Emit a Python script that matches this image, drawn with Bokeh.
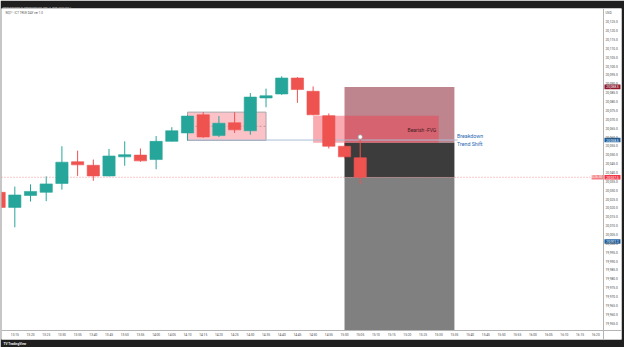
from bokeh.plotting import figure
from bokeh.models import Range1d, FixedTicker, Label, ColumnDataSource, NumeralTickFormatter, Title
from bokeh.embed import file_html
from bokeh.resources import INLINE
from bokeh.core.properties import value

# ---------------- data ----------------
times = ["13:10", "13:15", "13:20", "13:25", "13:30", "13:35", "13:40", "13:45",
         "13:50", "13:55", "14:00", "14:05", "14:10", "14:15", "14:20", "14:25",
         "14:30", "14:35", "14:40", "14:45", "14:50", "14:55", "15:00", "15:05"]
opens = [20029.0, 20020.5, 20027.25, 20029.0, 20034.0, 20046.25, 20044.25, 20038.25,
         20049.0, 20050.0, 20047.5, 20057.75, 20062.5, 20072.75, 20061.0, 20068.25,
         20063.75, 20082.25, 20084.5, 20093.5, 20086.0, 20072.25, 20055.0, 20048.5]
highs = [20030.5, 20032.25, 20033.5, 20038.0, 20055.0, 20052.5, 20047.5, 20053.5,
         20057.75, 20053.75, 20060.75, 20065.75, 20072.5, 20074.25, 20072.0, 20074.25,
         20085.0, 20087.5, 20094.5, 20094.0, 20088.75, 20073.5, 20057.0, 20059.0]
lows = [20018.75, 20009.25, 20023.75, 20024.0, 20030.5, 20038.25, 20035.5, 20038.0,
        20044.0, 20046.25, 20042.0, 20057.75, 20058.25, 20059.75, 20060.25, 20062.5,
        20061.5, 20077.0, 20084.0, 20079.5, 20072.5, 20053.75, 20048.0, 20033.75]
closes = [20020.5, 20027.5, 20029.5, 20033.75, 20046.0, 20044.5, 20038.25, 20049.5,
          20050.25, 20046.75, 20057.75, 20063.75, 20072.0, 20060.25, 20068.0, 20064.25,
          20082.75, 20083.5, 20093.5, 20087.0, 20072.75, 20055.0, 20049.0, 20037.5]

x_tick_labels = ["13:15", "13:20", "13:25", "13:30", "13:35", "13:40", "13:45", "13:50",
                 "13:55", "14:00", "14:05", "14:10", "14:15", "14:20", "14:25", "14:30",
                 "14:35", "14:40", "14:45", "14:50", "14:55", "15:00", "15:05", "15:10",
                 "15:15", "15:20", "15:25", "15:30", "15:35", "15:40", "15:45", "15:50",
                 "15:55", "16:00", "16:05", "16:10", "16:15", "16:20"]
price_ticks = [19955, 19960, 19965, 19970, 19975, 19980, 19985, 19990, 19995, 20000,
               20005, 20010, 20015, 20020, 20025, 20030, 20035, 20040, 20045, 20050,
               20055, 20060, 20065, 20070, 20075, 20080, 20085, 20090, 20095, 20100,
               20105, 20110, 20115, 20120, 20125]
currency_label = "USD"
currency_level = 20130.5

# drawings (times / prices)
range_box = dict(start="14:10", end="14:35", top=20074.25, bottom=20058.25, mid=20066.25)
fvg_box = dict(start="14:50", end="15:30", top=20072.25, bottom=20057.0)
position = dict(start="15:00", end="15:35", stop=20088.5, entry=20057.0,
                current=20037.5, target=19951.0)
shift_line = dict(start="14:10", end="15:36", level=20058.5)
marker = dict(time="15:05", level=20060.2)
extra_level = 20001.25
countdown = "00:26:30"

title_text = "Sakas published on TradingView.com, May 13, 2025 15:33 UTC-4"
legend_text = "NQ1! · ICT TRUE DAY ver 1.0"
footer_text = "TV TradingView"


def tmin(t):
    h, m = t.split(":")
    return int(h) * 60 + int(m)


def fmt(v):
    return f"{v:,.1f}"


# ---------------- figure ----------------
UP, DOWN = "#26a69a", "#ef5350"
FONT = "Roboto"
DARK = "#1f1f1f"

X0, X1 = 790.76, 988.21          # time range shown (minutes)
Y0, Y1 = 19945.94, 20132.73      # price range shown
AXIS_X = 982.48                  # where the price scale starts
AXIS_Y = 19951.0                 # where the time scale starts
TAG_W = 5.1                      # price tag width (minutes)
TAG_H = 1.3                      # price tag half height (price)

p = figure(width=624, height=347, x_range=Range1d(X0, X1), y_range=Range1d(Y0, Y1),
           y_axis_location="right", output_backend="svg", toolbar_location=None,
           min_border_left=1, min_border_right=3, min_border_top=8, min_border_bottom=8)
p.grid.visible = False
p.outline_line_color = None
p.background_fill_color = "white"
p.border_fill_color = DARK

ya = p.yaxis[0]
ya.fixed_location = AXIS_X
ya.ticker = FixedTicker(ticks=price_ticks + [currency_level])
ya.formatter = NumeralTickFormatter(format="0,0.0")
ya.major_label_overrides = {currency_level: currency_label, str(currency_level): currency_label}
ya.major_tick_line_color = None
ya.minor_tick_line_color = None
ya.major_tick_out = 0
ya.major_label_standoff = 2
ya.axis_line_color = "#b4b4b4"
ya.major_label_text_font_size = "3.2px"
ya.major_label_text_font = FONT
ya.major_label_text_color = "#4a4a4a"

xa = p.xaxis[0]
xa.fixed_location = AXIS_Y
xt = [tmin(t) for t in x_tick_labels]
xa.ticker = FixedTicker(ticks=xt)
ov = {}
for v, t in zip(xt, x_tick_labels):
    ov[v] = t
    ov[str(v)] = t
xa.major_label_overrides = ov
xa.major_tick_line_color = None
xa.minor_tick_line_color = None
xa.major_tick_out = 0
xa.major_label_standoff = 2
xa.axis_line_color = "#b4b4b4"
xa.major_label_text_font_size = "3.2px"
xa.major_label_text_font = FONT
xa.major_label_text_color = "#4a4a4a"

# header / footer bars
p.title = Title(text=title_text, align="left", text_font_size="2.4px", text_color="#d8d8d8",
                text_font=FONT, text_font_style="normal", standoff=0, offset=1)
p.add_layout(Title(text=footer_text, align="left", text_font_size="3.2px",
                   text_color="#eeeeee", text_font=FONT, text_font_style="bold",
                   standoff=0, offset=2), "below")

# consolidation box
p.quad(left=[tmin(range_box["start"])], right=[tmin(range_box["end"])],
       top=[range_box["top"]], bottom=[range_box["bottom"]],
       fill_color="#f23645", fill_alpha=0.3, line_color="#a8a4aa", line_width=1)
p.segment(x0=[tmin(range_box["start"])], x1=[tmin(range_box["end"])],
          y0=[range_box["mid"]], y1=[range_box["mid"]],
          line_color="#c4949a", line_dash="2 2", line_width=1)

# position tool
ps, pe = tmin(position["start"]), tmin(position["end"])
p.quad(left=[ps], right=[pe], top=[position["stop"]], bottom=[position["entry"]],
       fill_color="#bf858f", line_color=None)
p.quad(left=[ps], right=[pe], top=[position["entry"]], bottom=[position["current"]],
       fill_color="#3c3c3c", line_color=None)
p.quad(left=[ps], right=[pe], top=[position["current"]], bottom=[position["target"]],
       fill_color="#808080", line_color=None)

# FVG
p.quad(left=[tmin(fvg_box["start"])], right=[tmin(fvg_box["end"])],
       top=[fvg_box["top"]], bottom=[fvg_box["bottom"]],
       fill_color="#f23645", fill_alpha=0.42, line_color=None)

# breakdown line
p.segment(x0=[tmin(shift_line["start"])], x1=[tmin(shift_line["end"])],
          y0=[shift_line["level"]], y1=[shift_line["level"]],
          line_color="#a9bdd6", line_width=1)

# price line
p.segment(x0=[X0], x1=[AXIS_X], y0=[position["current"]], y1=[position["current"]],
          line_color="#f23645", line_alpha=0.55, line_dash="1 2", line_width=1)

# candles
xs = [tmin(t) for t in times]
cols = [UP if c >= o else DOWN for o, c in zip(opens, closes)]
src = ColumnDataSource(dict(x=xs, high=highs, low=lows,
                            top=[max(o, c) for o, c in zip(opens, closes)],
                            bottom=[min(o, c) for o, c in zip(opens, closes)],
                            color=cols))
p.segment(x0="x", y0="high", x1="x", y1="low", line_color="color", line_width=1, source=src)
p.vbar(x="x", width=3.9, top="top", bottom="bottom", fill_color="color",
       line_color="color", line_width=0.6, source=src)

# marker
p.scatter(x=[tmin(marker["time"])], y=[marker["level"]], size=4.5,
          fill_color="white", line_color="#9a9a9a", line_width=0.8)

# texts
p.text(x=[tmin(fvg_box["end"]) - 0.8], y=[20063.9], text=["Bearish -FVG"],
       text_align="right", text_baseline="middle", text_font_size="5px",
       text_color="#4a1820", text_font=value(FONT))
p.text(x=[tmin(shift_line["end"]) - 0.2, tmin(shift_line["end"]) - 0.2],
       y=[20060.6, 20056.4], text=["Breakdown", "Trend Shift"],
       text_align="left", text_baseline="middle", text_font_size="5.3px",
       text_color="#2a66b0", text_font=value(FONT))

# legend (top-left)
p.add_layout(Label(x=X0 + 1.3, y=20130.3, text=legend_text, text_font_size="3px",
                   text_baseline="middle", text_color="#555555", text_font=FONT))

# price tags on the scale
tag_levels = [position["stop"], shift_line["level"], extra_level, position["current"]]
tag_colors = ["#8e1b2e", "#1e5fa0", "#1e5fa0", "#f23645"]
p.quad(left=[AXIS_X + 0.3] * 4, right=[AXIS_X + 0.3 + TAG_W] * 4,
       top=[v + TAG_H for v in tag_levels], bottom=[v - TAG_H for v in tag_levels],
       fill_color=tag_colors, line_color=None)
p.text(x=[AXIS_X + 0.9] * 4, y=tag_levels, text=[fmt(v) for v in tag_levels],
       text_align="left", text_baseline="middle", text_font_size="3.2px",
       text_color="white", text_font=value(FONT))
# countdown tag
p.quad(left=[AXIS_X - 3.8], right=[AXIS_X], top=[position["current"] + TAG_H],
       bottom=[position["current"] - TAG_H], fill_color="#f47f84", line_color=None)
p.text(x=[AXIS_X - 0.4], y=[position["current"]], text=[countdown],
       text_align="right", text_baseline="middle", text_font_size="3.2px",
       text_color="white", text_font=value(FONT))

open("out.html", "w").write(file_html(p, INLINE))
